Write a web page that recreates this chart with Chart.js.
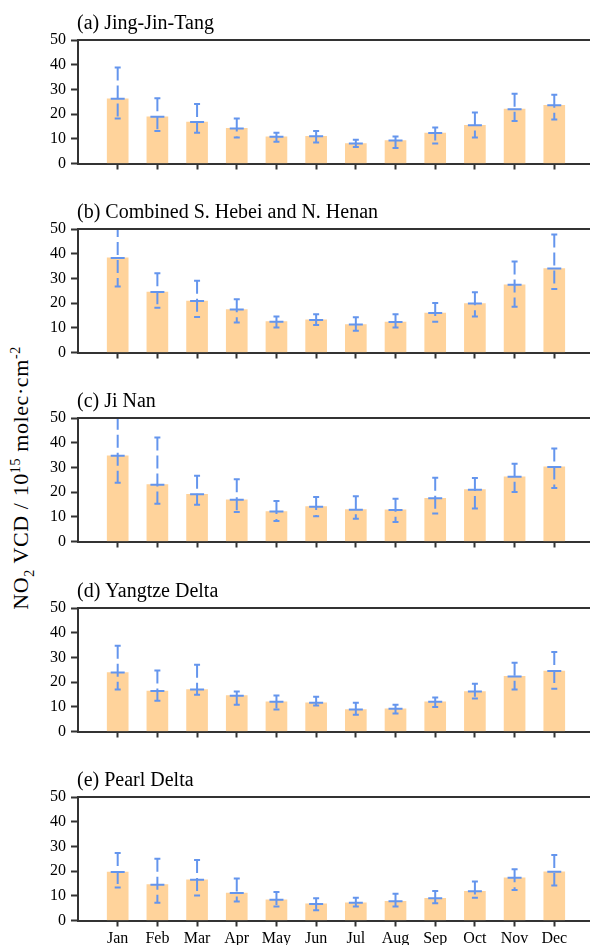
<!DOCTYPE html>
<html>
<head>
<meta charset="utf-8">
<script src="https://cdn.jsdelivr.net/npm/chart.js@4.4.1/dist/chart.umd.min.js"></script>
<style>
  html, body { margin: 0; padding: 0; background: #fff; overflow: hidden; }
  #wrap { position: relative; width: 590px; height: 945px; }
  .panel { position: absolute; left: 0; width: 590px; height: 189px; }
  #ylab {
    position: absolute; left: 23px; top: 478px;
    transform: translate(-50%, -50%) rotate(-90deg);
    font-family: "Liberation Serif", serif; font-size: 22px;
    letter-spacing: 0.6px;
    white-space: nowrap; color: #000;
  }
  #ylab sub, #ylab sup { font-size: 14px; }
</style>
</head>
<body>
<div id="wrap">
  <div id="ylab">NO<sub>2</sub> VCD / 10<sup>15</sup> molec·cm<sup>-2</sup></div>
</div>
<script>
// =========================
// DATA
// =========================

const months = ["Jan", "Feb", "Mar", "Apr", "May", "Jun", "Jul", "Aug", "Sep", "Oct", "Nov", "Dec"];

const yTicks = [0, 10, 20, 30, 40, 50];

const titles = [
  "(a) Jing-Jin-Tang",
  "(b) Combined S. Hebei and N. Henan",
  "(c) Ji Nan",
  "(d) Yangtze Delta",
  "(e) Pearl Delta"
];

// (a) Jing-Jin-Tang
const meanJJT = [26.2, 18.9, 16.8, 14.2, 10.8, 11.0, 8.1, 9.3, 12.3, 15.5, 22.0, 23.6];
const lowJJT  = [18.2, 13.2, 12.5, 10.5, 8.8, 8.5, 6.7, 6.3, 8.1, 10.5, 17.2, 17.8];
const highJJT = [38.9, 26.4, 24.1, 18.2, 12.5, 13.2, 9.6, 10.9, 14.6, 20.6, 28.2, 27.8];

// (b) Combined S. Hebei and N. Henan
const meanHH = [38.3, 24.5, 20.8, 17.4, 12.5, 13.2, 11.3, 12.3, 16.0, 19.8, 27.4, 34.0];
const lowHH  = [26.7, 18.1, 14.4, 12.1, 10.1, 11.1, 8.8, 10.1, 12.4, 14.6, 18.5, 25.7];
const highHH = [52.0, 32.1, 29.0, 21.6, 14.6, 15.5, 14.3, 15.5, 20.0, 24.4, 36.8, 47.8];

// (c) Ji Nan
const meanJN = [34.7, 23.0, 19.1, 16.9, 12.1, 14.1, 12.9, 12.8, 17.5, 21.0, 26.2, 30.2];
const lowJN  = [23.8, 15.3, 14.9, 11.9, 8.3, 10.2, 9.2, 7.9, 11.3, 13.4, 20.0, 21.7];
const highJN = [50.5, 42.1, 26.6, 25.2, 16.4, 18.0, 18.3, 17.3, 25.8, 25.7, 31.5, 37.7];

// (d) Yangtze Delta
const meanYD = [23.9, 16.4, 17.0, 14.5, 12.0, 11.6, 8.9, 9.2, 12.0, 16.2, 22.3, 24.5];
const lowYD  = [17.0, 12.4, 14.9, 10.8, 8.9, 10.5, 6.8, 7.3, 9.9, 13.4, 17.0, 17.3];
const highYD = [34.7, 24.7, 27.0, 16.2, 14.6, 14.1, 11.6, 10.8, 13.8, 19.3, 27.8, 32.2];

// (e) Pearl Delta
const meanPD = [19.6, 14.5, 16.5, 11.1, 8.4, 6.7, 7.2, 7.8, 9.0, 11.8, 17.3, 19.7];
const lowPD  = [13.4, 7.2, 10.1, 7.7, 5.7, 4.2, 5.7, 5.7, 7.0, 9.2, 12.3, 14.2];
const highPD = [27.3, 25.0, 24.5, 17.0, 11.5, 9.0, 9.2, 10.8, 11.9, 15.8, 20.7, 26.5];

const panels = [
  { mean: meanJJT, low: lowJJT, high: highJJT },
  { mean: meanHH,  low: lowHH,  high: highHH },
  { mean: meanJN,  low: lowJN,  high: highJN },
  { mean: meanYD,  low: lowYD,  high: highYD },
  { mean: meanPD,  low: lowPD,  high: highPD }
];

// =========================
// STYLE
// =========================

const barColor = "rgb(255,211,155)";
const errColor = "rgb(100,149,237)";
const axisColor = "#333";
const serif = "'Liberation Serif', 'DejaVu Serif', serif";

// =========================
// ERROR BARS + TITLE + TOP FRAME
// =========================

const errBarPlugin = {
  id: "errbars",
  afterDatasetsDraw(chart, args, opts)
  {
    const { ctx, chartArea, scales } = chart;
    const x = scales.x;
    const y = scales.y;

    ctx.save();
    ctx.beginPath();
    ctx.rect(chartArea.left, chartArea.top - 1, chartArea.right - chartArea.left, chartArea.bottom - chartArea.top + 1);
    ctx.clip();

    ctx.strokeStyle = errColor;
    ctx.lineWidth = 2;

    opts.mean.forEach((m, i) =>
    {
      const px = x.getPixelForValue(i + 1);
      const yHi = y.getPixelForValue(opts.high[i]);
      const yLo = y.getPixelForValue(opts.low[i]);
      const yM = y.getPixelForValue(m);

      // dashed whisker
      ctx.setLineDash([13, 5]);
      ctx.beginPath();
      ctx.moveTo(px, yHi);
      ctx.lineTo(px, yLo);
      ctx.stroke();

      ctx.setLineDash([]);
      ctx.beginPath();
      // caps
      ctx.moveTo(px - 3, yHi);
      ctx.lineTo(px + 3, yHi);
      ctx.moveTo(px - 3, yLo);
      ctx.lineTo(px + 3, yLo);
      // mean
      ctx.moveTo(px - 7, yM);
      ctx.lineTo(px + 7, yM);
      ctx.stroke();
    });

    ctx.restore();

    // top frame line, runs off the right edge like the original
    ctx.save();
    ctx.strokeStyle = axisColor;
    ctx.lineWidth = 2;
    ctx.beginPath();
    ctx.moveTo(chartArea.left - 1, chartArea.top);
    ctx.lineTo(chart.width, chartArea.top);
    ctx.stroke();

    // panel title
    ctx.fillStyle = "#000";
    ctx.font = "20px " + serif;
    ctx.textBaseline = "alphabetic";
    ctx.textAlign = "left";
    ctx.fillText(opts.title, chartArea.left - 1, 29);
    ctx.restore();
  }
};

// =========================
// CHARTS
// =========================

const wrap = document.getElementById("wrap");

panels.forEach((p, k) =>
{
  const isLast = k === panels.length - 1;

  const canvas = document.createElement("canvas");
  canvas.className = "panel";
  canvas.width = 590;
  canvas.height = 189;
  canvas.style.top = Math.round(k * 189.2) + "px";
  wrap.appendChild(canvas);

  new Chart(canvas, {
    type: "bar",
    data: {
      datasets: [
        {
          data: p.mean.map((v, i) => ({ x: i + 1, y: v })),
          backgroundColor: barColor,
          borderWidth: 0,
          barThickness: 21
        }
      ]
    },
    options: {
      responsive: false,
      animation: false,
      layout: { padding: { top: 40, left: 0, right: 0, bottom: 0 } },
      plugins: {
        legend: { display: false },
        tooltip: { enabled: false },
        errbars: { mean: p.mean, low: p.low, high: p.high, title: titles[k] }
      },
      scales: {
        x: {
          type: "linear",
          min: 0,
          max: 12.9,
          offset: false,
          afterBuildTicks: (s) =>
          {
            s.ticks = [];
            for (let v = 0; v <= 12; v++) s.ticks.push({ value: v });
          },
          ticks: {
            autoSkip: false,
            maxRotation: 0,
            padding: 3,
            color: "#000",
            font: { family: serif, size: 16 },
            callback: (v) => (isLast && v >= 1 && v <= 12) ? months[v - 1] : ""
          },
          grid: {
            offset: false,
            drawOnChartArea: false,
            tickLength: 6,
            tickWidth: 2,
            tickColor: (c) => (c.tick && c.tick.value < 1) ? "rgba(0,0,0,0)" : axisColor
          },
          border: { color: axisColor, width: 2 },
          afterFit: (s) => { s.height = 25.5; }
        },
        y: {
          min: 0,
          max: 50,
          afterBuildTicks: (s) => { s.ticks = yTicks.map(v => ({ value: v })); },
          ticks: {
            padding: 5,
            color: "#000",
            font: { family: serif, size: 16 }
          },
          grid: {
            drawOnChartArea: false,
            tickLength: 7,
            tickWidth: 2,
            tickColor: axisColor
          },
          border: { color: axisColor, width: 2 },
          afterFit: (s) => { s.width = 78; }
        }
      }
    },
    plugins: [errBarPlugin]
  });
});
</script>
</body>
</html>
